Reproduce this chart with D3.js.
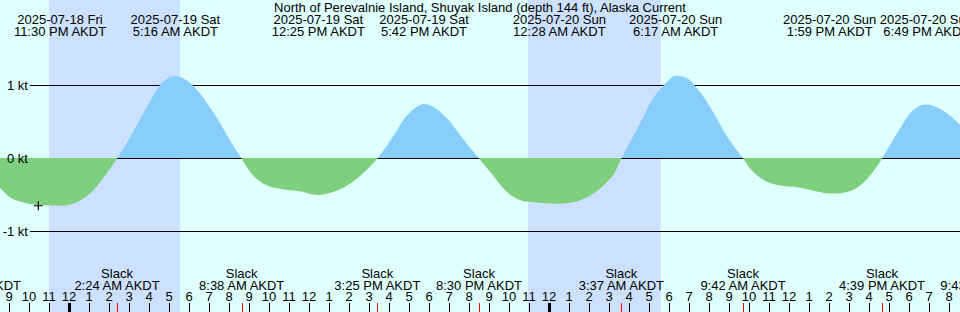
<!DOCTYPE html>
<html><head><meta charset="utf-8">
<script src="https://cdn.jsdelivr.net/npm/d3@7"></script>
<style>html,body{margin:0;padding:0;background:#E0FFFF;}svg{display:block;}</style>
</head><body>
<script>
// ---- data ----
const title = "North of Perevalnie Island, Shuyak Island (depth 144 ft), Alaska Current";
// hours relative to 2025-07-19 00:00 AKDT
const curveHours = [-3.5,-3.45,-2.95,-2.45,-1.8,-0.95,-0.5,-0.1,0.4,1.05,1.7,2.4,3.2,4.05,4.7,5.27,5.9,6.55,7.4,8.2,8.63,9.2,9.9,10.7,11.55,12.42,13.2,13.9,14.55,15.42,16.2,16.9,17.7,18.2,18.9,19.55,20.5,21.2,21.9,22.55,23.2,24.47,25.2,25.9,26.55,27.2,27.62,28.55,29.2,29.9,30.28,30.9,31.55,32.2,32.9,33.7,34.2,34.9,35.55,36.55,37.55,37.98,38.9,39.55,40.2,40.65,41.55,42.2,42.82,43.55,44.55,45.0];
const curveKnots = [-0.39,-0.40,-0.53,-0.59,-0.63,-0.64,-0.645,-0.64,-0.60,-0.48,-0.27,0,0.36,0.78,1.05,1.13,1.07,0.89,0.55,0.18,0,-0.23,-0.37,-0.42,-0.45,-0.50,-0.46,-0.37,-0.24,0,0.30,0.59,0.745,0.71,0.55,0.32,0,-0.23,-0.46,-0.57,-0.60,-0.62,-0.60,-0.53,-0.41,-0.23,0,0.48,0.82,1.05,1.13,1.10,0.91,0.64,0.30,0,-0.18,-0.32,-0.37,-0.40,-0.46,-0.48,-0.46,-0.37,-0.18,0,0.41,0.66,0.74,0.68,0.46,0.30];
const eventTimes = ["2025-07-18 23:30","2025-07-19 05:16","2025-07-19 12:25","2025-07-19 17:42","2025-07-20 00:28","2025-07-20 06:17","2025-07-20 13:59","2025-07-20 18:49"];
const slackTimes = ["2025-07-18 19:27","2025-07-19 02:24","2025-07-19 08:38","2025-07-19 15:25","2025-07-19 20:30","2025-07-20 03:37","2025-07-20 09:42","2025-07-20 16:39","2025-07-20 21:43"];
const nightStarts = ["2025-07-18 23:00","2025-07-19 22:57"];
const nightEnds   = ["2025-07-19 05:33","2025-07-20 05:35"];
const yTicks = [1, 0, -1];
const markerTime = "2025-07-18 22:28";
const markerKnots = -0.647;

// ---- setup ----
const W = 960, H = 312;
const parse = d3.timeParse("%Y-%m-%d %H:%M");
const base = parse("2025-07-19 00:00");
const x = d3.scaleTime().domain([base, parse("2025-07-20 00:00")]).range([69, 549]);
const y = d3.scaleLinear().domain([-1, 1]).range([231.5, 85.5]);
const hx = h => x(new Date(+base + h * 3600e3));
const font = "'Liberation Sans', Arial, sans-serif";

const svg = d3.select("body").append("svg").attr("width", W).attr("height", H)
  .style("font-family", font).style("font-size", "13px");
svg.append("rect").attr("width", W).attr("height", H).attr("fill", "#E0FFFF");

// night shading
svg.append("g").selectAll("rect").data(nightStarts).join("rect")
  .attr("x", (d, i) => x(parse(d)))
  .attr("width", (d, i) => x(parse(nightEnds[i])) - x(parse(d)))
  .attr("y", 0).attr("height", H).attr("fill", "#CCE0FF");

// grid lines
svg.append("g").selectAll("line").data(yTicks).join("line")
  .attr("x1", 30).attr("x2", W).attr("y1", d => y(d)).attr("y2", d => y(d))
  .attr("stroke", "#000").attr("stroke-width", 1);

// areas
const pts = curveHours.map((h, i) => [hx(h), y(curveKnots[i])]);
const defs = svg.append("defs");
defs.append("clipPath").attr("id", "above").append("rect")
  .attr("x", 0).attr("y", 0).attr("width", W).attr("height", Math.floor(y(0)));
defs.append("clipPath").attr("id", "below").append("rect")
  .attr("x", 0).attr("y", Math.floor(y(0))).attr("width", W).attr("height", H);
const crv = d3.curveCatmullRom.alpha(0.5);
const areaUp = d3.area().x(d => d[0]).y0(y(0)).y1(d => d[1]).curve(crv);
const areaDn = d3.area().x(d => d[0]).y0(y(0) - 1).y1(d => d[1]).curve(crv);
svg.append("path").attr("d", areaUp(pts)).attr("fill", "#87CEFA").attr("clip-path", "url(#above)");
svg.append("path").attr("d", areaDn(pts)).attr("fill", "#7ECF7E").attr("clip-path", "url(#below)");

// y labels (on top of fills)
svg.append("g").selectAll("text").data(yTicks).join("text")
  .attr("x", 28).attr("y", d => y(d) + 4.5).attr("text-anchor", "end")
  .text(d => d + " kt");

// marker
const mx = x(parse(markerTime)), my = y(markerKnots);
svg.append("path").attr("d", `M${mx-4.5},${my}H${mx+4.5}M${mx},${my-4.5}V${my+4.5}`)
  .attr("stroke", "#000").attr("stroke-width", 1.2).attr("fill", "none");

// title + top labels
svg.append("text").attr("x", W / 2).attr("y", 12).attr("text-anchor", "middle").text(title);
const fDate = d3.timeFormat("%Y-%m-%d %a");
const fTime = d3.timeFormat("%-I:%M %p AKDT");
const ev = svg.append("g").selectAll("g").data(eventTimes).join("g")
  .attr("transform", d => `translate(${x(parse(d)) + 1},0)`);
ev.append("text").attr("y", 24).attr("text-anchor", "middle").text(d => fDate(parse(d)));
ev.append("text").attr("y", 35.5).attr("text-anchor", "middle").text(d => fTime(parse(d)));

// slack labels
const sl = svg.append("g").selectAll("g").data(slackTimes).join("g")
  .attr("transform", d => `translate(${x(parse(d))},0)`);
sl.append("text").attr("y", 278).attr("text-anchor", "middle").text("Slack");
sl.append("text").attr("y", 289.5).attr("text-anchor", "middle").text(d => fTime(parse(d)));

// hour ticks
const hours = d3.timeHour.range(parse("2025-07-18 17:00"), parse("2025-07-21 00:00"))
  .filter(d => x(d) > -10 && x(d) < W + 10);
const fHour = d3.timeFormat("%-I");
svg.append("g").selectAll("text").data(hours).join("text")
  .attr("x", d => x(d)).attr("y", 300.5).attr("text-anchor", "middle").text(d => fHour(d));
svg.append("g").selectAll("line").data(hours).join("line")
  .attr("x1", d => Math.round(x(d)) + 0.5).attr("x2", d => Math.round(x(d)) + 0.5)
  .attr("y1", 303).attr("y2", H)
  .attr("stroke", "#000").attr("stroke-width", d => d.getHours() === 0 ? 3 : 1);
svg.append("g").selectAll("line").data(slackTimes).join("line")
  .attr("x1", d => Math.round(x(parse(d))) + 0.5).attr("x2", d => Math.round(x(parse(d))) + 0.5)
  .attr("y1", 303).attr("y2", H).attr("stroke", "#FF0000").attr("stroke-width", 1);
</script>
</body></html>
